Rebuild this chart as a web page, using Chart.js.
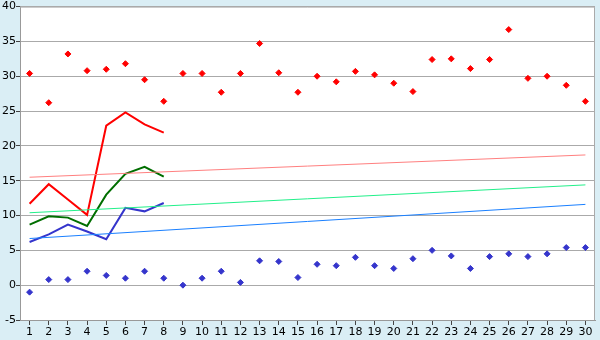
<!DOCTYPE html>
<html>
<head>
<meta charset="utf-8">
<script src="https://cdn.jsdelivr.net/npm/chart.js@4"></script>
<style>
  html, body { margin: 0; padding: 0; background: #daeef5; }
  #wrap { width: 600px; height: 340px; }
</style>
</head>
<body>
<div id="wrap"><canvas id="chart" width="600" height="340"></canvas></div>
<script>
// Categories 1..30
const days = ['1','2','3','4','5','6','7','8','9','10','11','12','13','14','15',
              '16','17','18','19','20','21','22','23','24','25','26','27','28','29','30'];

// Scatter markers
const highPoints = [30.4, 26.2, 33.2, 30.8, 31.0, 31.8, 29.5, 26.4, 30.4, 30.4,
                    27.7, 30.4, 34.7, 30.5, 27.7, 30.0, 29.2, 30.7, 30.2, 29.0,
                    27.8, 32.4, 32.5, 31.1, 32.4, 36.7, 29.7, 30.0, 28.7, 26.4];
const lowPoints = [-1.0, 0.8, 0.8, 2.0, 1.4, 1.0, 2.0, 1.0, 0.0, 1.0,
                   2.0, 0.4, 3.5, 3.4, 1.1, 3.0, 2.8, 4.0, 2.8, 2.4,
                   3.8, 5.0, 4.2, 2.4, 4.1, 4.5, 4.1, 4.5, 5.4, 5.4];

// Short lines (first 8 days)
const redLine = [11.7, 14.5, 12.3, 10.1, 22.9, 24.8, 23.1, 21.9];
const greenLine = [8.7, 9.9, 9.7, 8.5, 13.0, 16.0, 17.0, 15.6];
const blueLine = [6.2, 7.3, 8.7, 7.7, 6.6, 11.1, 10.6, 11.8];

// Trend lines: start (day 1) and end (day 30)
const pinkTrend = [15.5, 18.7];
const mintTrend = [10.4, 14.4];
const skyTrend = [6.7, 11.6];

const yTicks = [-5, 0, 5, 10, 15, 20, 25, 30, 35, 40];

// spread two end values over the category axis (only ends filled)
function ends(pair) {
    return days.map((d, i) => i === 0 ? pair[0] : (i === days.length - 1 ? pair[1] : null));
}

const plotFrame = {
    id: 'plotFrame',
    beforeDraw(chart) {
        const { ctx, chartArea: a } = chart;
        ctx.save();
        ctx.fillStyle = '#ffffff';
        ctx.fillRect(a.left, a.top, a.right - a.left, a.bottom - a.top);
        ctx.restore();
    },
    afterDatasetsDraw(chart) {
        const { ctx, chartArea: a } = chart;
        ctx.save();
        ctx.strokeStyle = '#aaaaaa';
        ctx.lineWidth = 1;
        ctx.beginPath();
        ctx.moveTo(a.left, a.top + 0.5);
        ctx.lineTo(a.right - 0.5, a.top + 0.5);
        ctx.lineTo(a.right - 0.5, a.bottom);
        ctx.stroke();
        ctx.restore();
    }
};

const marker = { pointStyle: 'rectRot', pointRadius: 3, pointHoverRadius: 3, showLine: false };

new Chart(document.getElementById('chart'), {
    type: 'line',
    data: {
        labels: days,
        datasets: [
            { data: ends(pinkTrend), borderColor: '#ff8080', borderWidth: 1, pointRadius: 0, spanGaps: true },
            { data: ends(mintTrend), borderColor: '#22f08a', borderWidth: 1, pointRadius: 0, spanGaps: true },
            { data: ends(skyTrend), borderColor: '#1a80ff', borderWidth: 1, pointRadius: 0, spanGaps: true },
            { data: redLine, borderColor: '#ff0000', borderWidth: 2, pointRadius: 0, tension: 0 },
            { data: greenLine, borderColor: '#006e00', borderWidth: 2, pointRadius: 0, tension: 0 },
            { data: blueLine, borderColor: '#3535cc', borderWidth: 2, pointRadius: 0, tension: 0 },
            Object.assign({ data: highPoints, backgroundColor: '#ff0000', borderColor: '#ff0000', borderWidth: 1 }, marker),
            Object.assign({ data: lowPoints, backgroundColor: '#3535cc', borderColor: '#3535cc', borderWidth: 1 }, marker)
        ]
    },
    options: {
        responsive: false,
        animation: false,
        layout: { padding: { top: 5, right: 5, left: 0, bottom: 0 } },
        plugins: { legend: { display: false }, tooltip: { enabled: false } },
        scales: {
            x: {
                offset: true,
                grid: { display: true, drawOnChartArea: false, tickLength: 5, color: '#444444' },
                border: { color: '#999999' },
                ticks: { color: '#000000', padding: 1, maxRotation: 0, autoSkip: false,
                         font: { family: 'DejaVu Sans', size: 11 } },
                afterFit(scale) { scale.height = 20; }
            },
            y: {
                min: -5,
                max: 40,
                afterBuildTicks(scale) { scale.ticks = yTicks.map(v => ({ value: v })); },
                grid: { color: '#aaaaaa', tickLength: 4, tickColor: '#444444' },
                border: { color: '#999999' },
                ticks: { color: '#000000', padding: 0,
                         font: { family: 'DejaVu Sans', size: 11 } },
                afterFit(scale) { scale.width = 20; }
            }
        }
    },
    plugins: [plotFrame]
});
</script>
</body>
</html>
